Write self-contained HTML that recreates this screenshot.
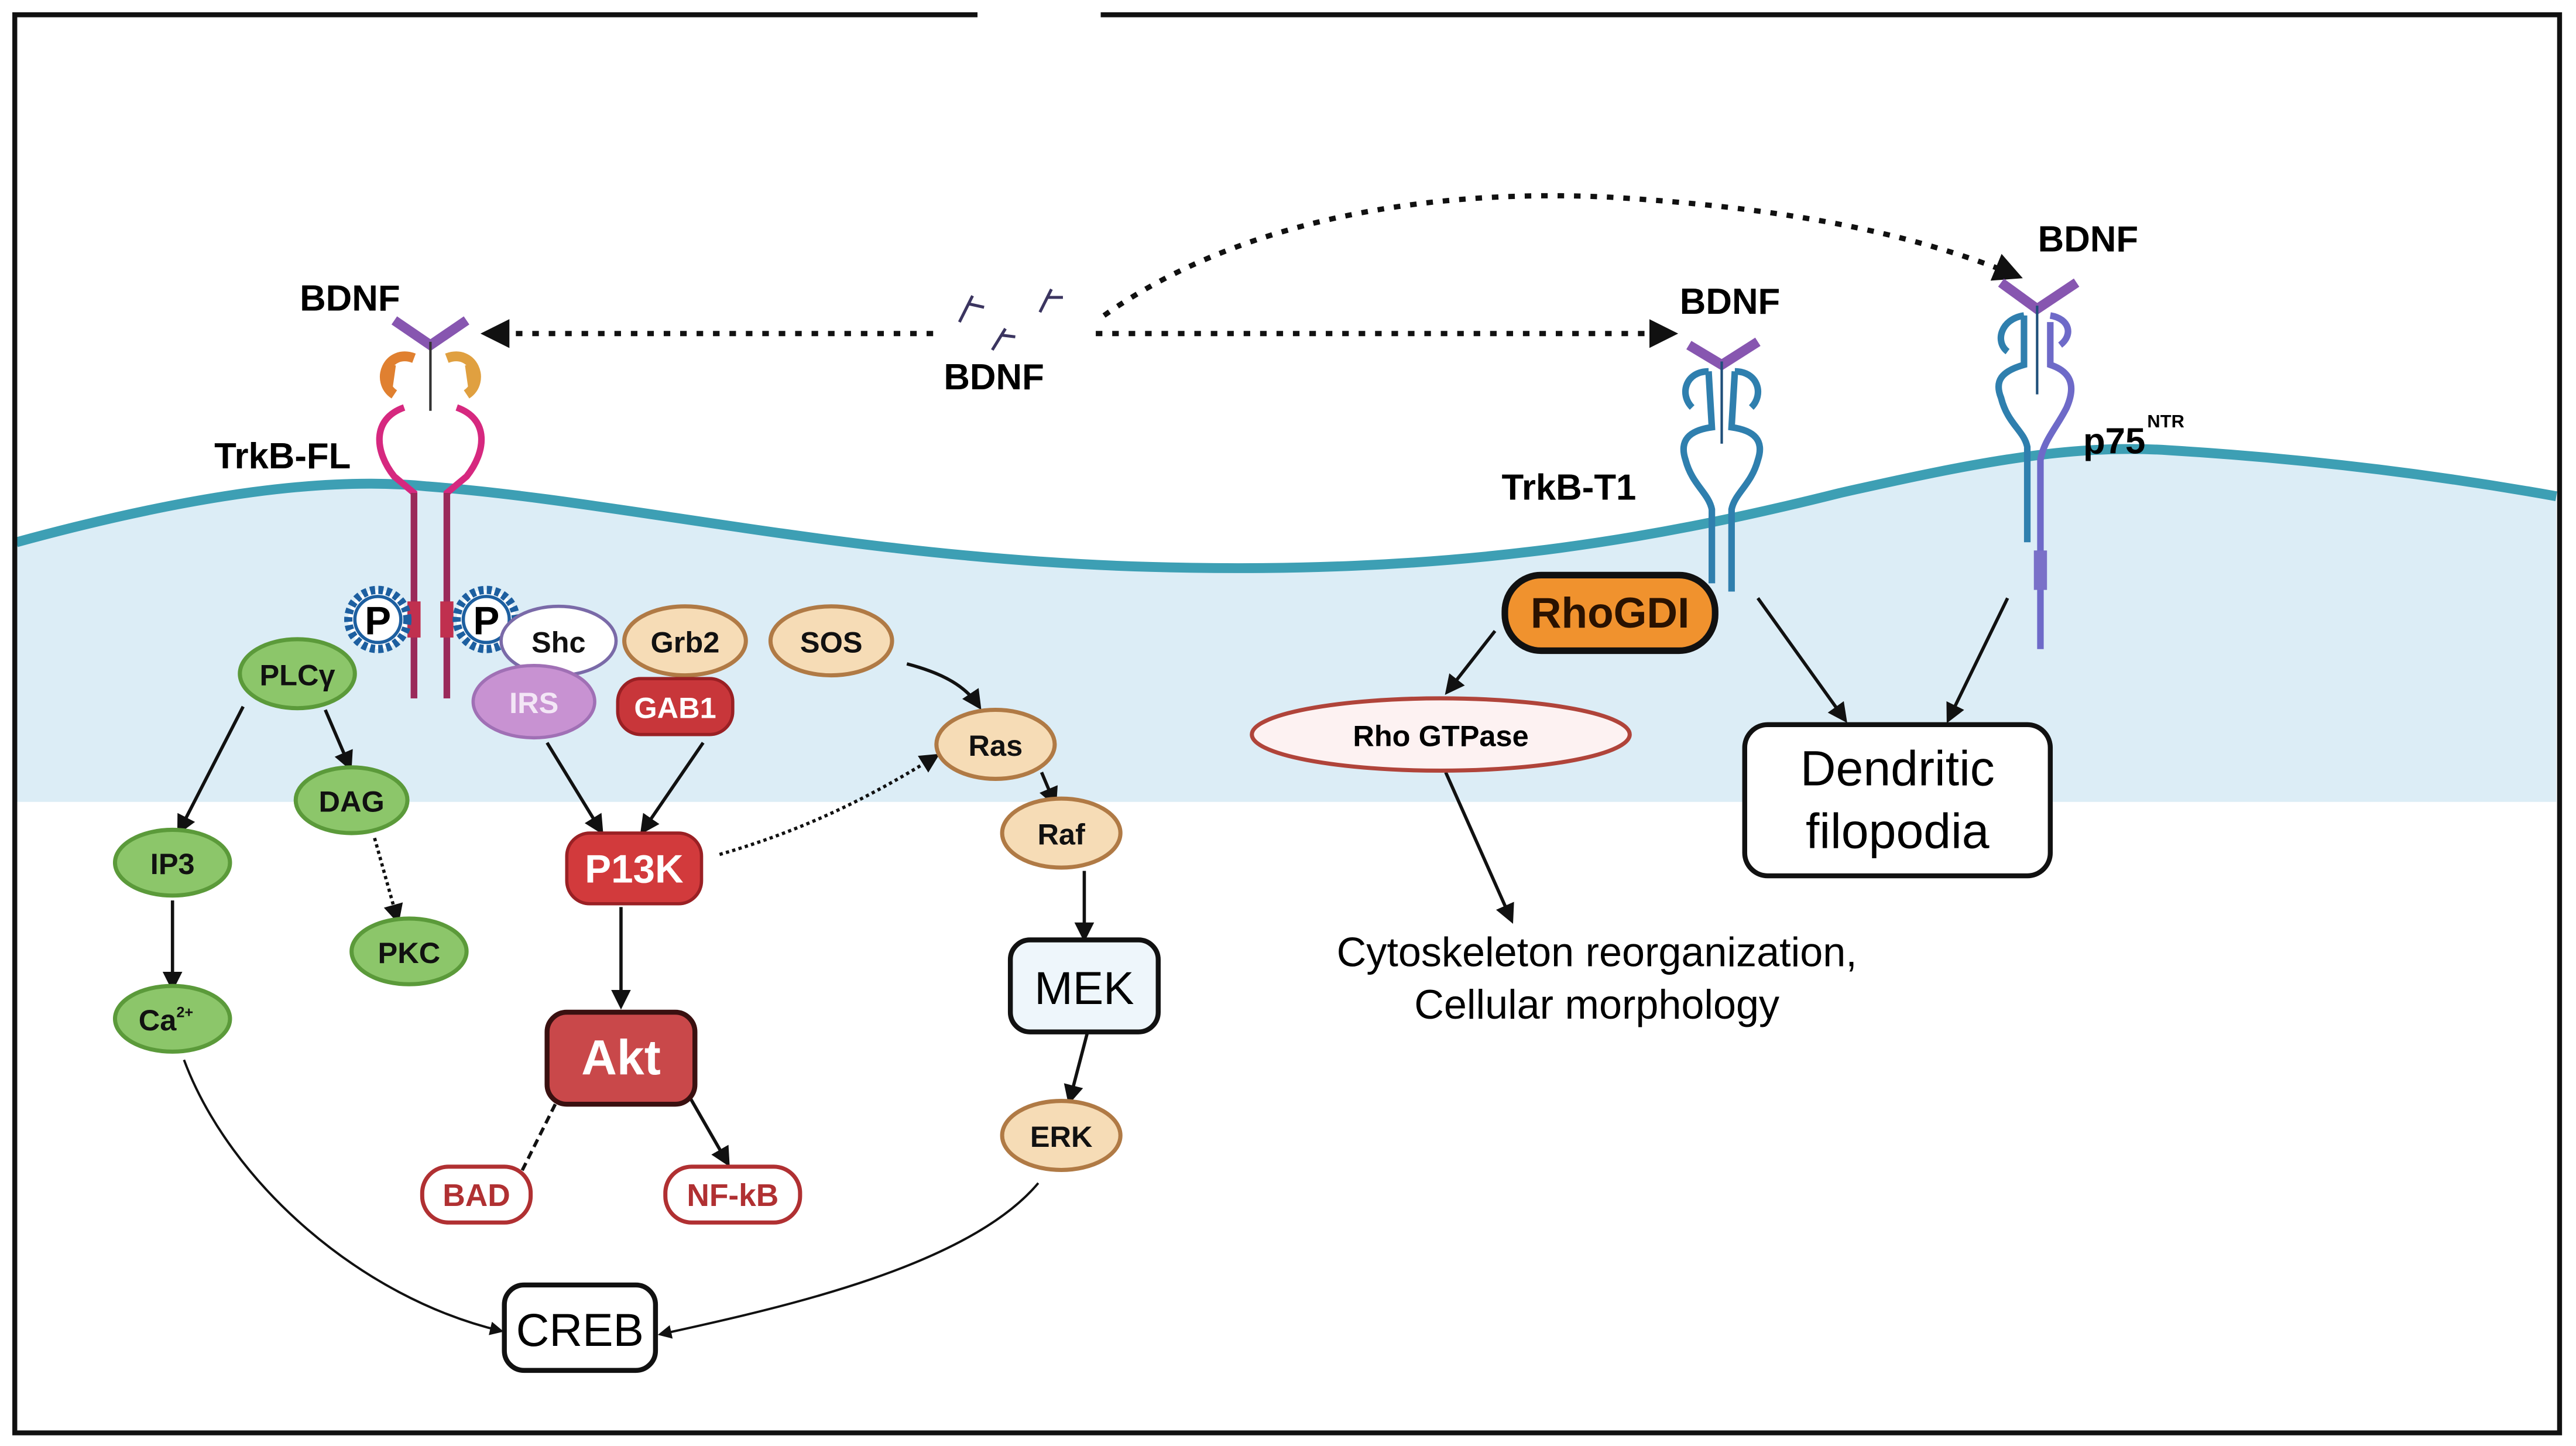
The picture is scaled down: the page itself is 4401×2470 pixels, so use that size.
<!DOCTYPE html>
<html><head><meta charset="utf-8"><style>
html,body{margin:0;padding:0;background:#fff}
svg{display:block}
text{font-family:"Liberation Sans Narrow","Liberation Sans",sans-serif;font-weight:bold}
</style></head><body>
<svg width="4401" height="2470" viewBox="0 0 1568 880" preserveAspectRatio="none" xmlns="http://www.w3.org/2000/svg">
<defs>
<marker id="ah" viewBox="0 0 10 10" refX="8" refY="5" markerWidth="6" markerHeight="6" orient="auto"><path d="M0,0 L10,5 L0,10 z" fill="#111"/></marker>
<marker id="ahb" viewBox="0 0 10 10" refX="8" refY="5" markerWidth="5.5" markerHeight="5.5" orient="auto"><path d="M0,0 L10,5 L0,10 z" fill="#111"/></marker>
</defs>
<rect width="1568" height="880" fill="#fff"/>
<path d="M10,330 C120,300 200,290 260,296 C380,305 520,340 700,345 C880,350 1000,330 1120,300 C1200,282 1260,270 1320,274 C1420,280 1500,292 1556,302 L1556,488 L10,488 Z" fill="#dcedf6"/>
<path d="M10,330 C120,300 200,290 260,296 C380,305 520,340 700,345 C880,350 1000,330 1120,300 C1200,282 1260,270 1320,274 C1420,280 1500,292 1556,302" fill="none" stroke="#3d9fb4" stroke-width="6"/>
<path d="M595,9 L9,9 L9,872 L1558,872 L1558,9 L670,9" fill="none" stroke="#111" stroke-width="3"/>

<g stroke="#111" stroke-width="3.2" stroke-dasharray="4 6" fill="none">
<path d="M568,203 L296,203" marker-end="url(#ahb)"/>
<path d="M667,203 L1018,203" marker-end="url(#ahb)"/>
<path d="M672,192 C760,130 880,115 980,120 C1080,126 1160,140 1228,168" marker-end="url(#ahb)"/>
</g>
<g stroke="#3b3560" stroke-width="1.8" fill="none">
<path d="M584,196 L592,180 M590,185 L599,187"/>
<path d="M604,213 L612,200 M610,204 L618,205"/>
<path d="M633,190 L640,176 M638,181 L647,181"/>
</g>
<text x="605" y="237" font-size="22" text-anchor="middle">BDNF</text>

<path d="M240,195 L262,210 L284,195" fill="none" stroke="#8756b0" stroke-width="6"/>
<line x1="262" y1="208" x2="262" y2="250" stroke="#333" stroke-width="1.5"/>
<path d="M252,218 C236,212 228,232 240,240 M238,222 L236,236" stroke="#e08030" stroke-width="6" fill="none"/>
<path d="M272,218 C288,212 296,232 284,240 M286,222 L288,236" stroke="#e0a040" stroke-width="6" fill="none"/>
<path d="M246,248 C226,255 228,275 240,290 L252,300 L252,425" fill="none" stroke="#d6287f" stroke-width="4"/>
<path d="M278,248 C298,255 296,275 284,290 L272,300 L272,425" fill="none" stroke="#d6287f" stroke-width="4"/>
<path d="M252,300 L252,425 M272,300 L272,425" stroke="#9a2a5a" stroke-width="4"/>
<rect x="248" y="366" width="8" height="22" fill="#c0304f"/><rect x="268" y="366" width="8" height="22" fill="#c0304f"/>
<text x="213" y="189" font-size="22" text-anchor="middle">BDNF</text>
<text x="172" y="285" font-size="22" text-anchor="middle">TrkB-FL</text>
<g>
<circle cx="230" cy="377" r="18" fill="#fff" stroke="#1d5fa0" stroke-width="5" stroke-dasharray="3 2"/>
<circle cx="230" cy="377" r="14" fill="#fff" stroke="#1d5fa0" stroke-width="2"/>
<text x="230" y="386" font-size="24" text-anchor="middle">P</text>
<circle cx="296" cy="377" r="18" fill="#fff" stroke="#1d5fa0" stroke-width="5" stroke-dasharray="3 2"/>
<circle cx="296" cy="377" r="14" fill="#fff" stroke="#1d5fa0" stroke-width="2"/>
<text x="296" y="386" font-size="24" text-anchor="middle">P</text>
</g>

<path d="M1028,210 L1048,222 L1070,208" fill="none" stroke="#8756b0" stroke-width="6"/>
<line x1="1048" y1="220" x2="1048" y2="270" stroke="#1f4f7a" stroke-width="1.5"/>
<g stroke="#2f7fae" stroke-width="4" fill="none">
<path d="M1040,226 C1026,226 1022,240 1030,248 M1040,226 L1042,260 C1028,262 1022,268 1026,280 C1030,295 1040,300 1042,310 L1042,355"/>
<path d="M1056,226 C1070,226 1074,240 1066,248 M1056,226 L1054,260 C1068,262 1074,268 1070,280 C1066,295 1056,300 1054,310 L1054,360"/>
</g>
<text x="1053" y="191" font-size="22" text-anchor="middle">BDNF</text>
<text x="955" y="304" font-size="22" text-anchor="middle">TrkB-T1</text>

<path d="M1218,172 L1240,188 L1264,172" fill="none" stroke="#8756b0" stroke-width="6"/>
<line x1="1240" y1="186" x2="1240" y2="240" stroke="#1f4f7a" stroke-width="1.5"/>
<g stroke="#2f7fae" stroke-width="4" fill="none">
<path d="M1232,192 C1218,194 1214,208 1222,214 M1232,192 L1232,222 C1218,226 1214,232 1218,242 C1222,258 1232,262 1234,272 L1234,330"/>
</g>
<g stroke="#6e6ac8" stroke-width="4" fill="none">
<path d="M1248,192 C1260,194 1262,204 1254,210 M1248,196 L1248,222 C1260,226 1264,234 1258,248 C1252,260 1244,268 1242,280 L1242,395"/>
</g>
<rect x="1238" y="335" width="8" height="24" fill="#7a70c8"/>
<text x="1271" y="153" font-size="22" text-anchor="middle">BDNF</text>
<text x="1268" y="276" font-size="22">p75</text><text x="1307" y="260" font-size="11">NTR</text>

<g stroke="#111" stroke-width="2" fill="none" marker-end="url(#ah)">
<path d="M148,430 L109,506"/>
<path d="M198,432 L213,467"/>
<path d="M228,510 L242,560" stroke-dasharray="2 2"/>
<path d="M105,548 L105,601"/>
<path d="M333,452 L366,506"/>
<path d="M428,452 L391,506"/>
<path d="M438,520 C490,505 530,485 570,460" stroke-dasharray="2 2"/>
<path d="M378,552 L378,612"/>
<path d="M420,668 L443,708"/>
<path d="M552,404 C575,410 588,418 596,430"/>
<path d="M634,470 L642,489"/>
<path d="M660,530 L660,571"/>
<path d="M662,628 L651,670"/>
<path d="M112,645 C140,720 220,790 305,810" stroke-width="1.4"/>
<path d="M632,720 C590,770 480,795 402,812" stroke-width="1.4"/>
<path d="M910,384 L881,421"/>
<path d="M1070,364 L1123,438"/>
<path d="M1222,364 L1186,438"/>
<path d="M880,470 L920,560"/>
</g>
<path d="M338,672 L316,716" stroke="#111" stroke-width="2" stroke-dasharray="5 3"/>
<path d="M309,711 L322,720" stroke="#111" stroke-width="2"/>

<g stroke="#5b9a3a" stroke-width="2.5" fill="#8cc66a">
<ellipse cx="181" cy="410" rx="35" ry="21"/>
<ellipse cx="214" cy="487" rx="34" ry="20"/>
<ellipse cx="105" cy="525" rx="35" ry="20"/>
<ellipse cx="249" cy="579" rx="35" ry="20"/>
<ellipse cx="105" cy="620" rx="35" ry="20"/>
</g>
<g font-size="18" text-anchor="middle" fill="#111">
<text x="181" y="417">PLCγ</text>
<text x="214" y="494">DAG</text>
<text x="105" y="532">IP3</text>
<text x="249" y="586">PKC</text>
<text x="101" y="627">Ca<tspan font-size="9" dy="-8">2+</tspan></text>
</g>
<ellipse cx="340" cy="390" rx="35" ry="21" fill="#fff" stroke="#7a6aa8" stroke-width="2"/>
<ellipse cx="417" cy="390" rx="37" ry="21" fill="#f6dcb6" stroke="#b07a45" stroke-width="2.5"/>
<ellipse cx="506" cy="390" rx="37" ry="21" fill="#f6dcb6" stroke="#b07a45" stroke-width="2.5"/>
<ellipse cx="325" cy="427" rx="37" ry="22" fill="#c892d2" stroke="#a070b5" stroke-width="2"/>
<rect x="376" y="413" width="70" height="34" rx="14" fill="#c8363a" stroke="#9a2024" stroke-width="2"/>
<g font-size="18" text-anchor="middle">
<text x="340" y="397" fill="#111">Shc</text>
<text x="417" y="397" fill="#111">Grb2</text>
<text x="506" y="397" fill="#111">SOS</text>
<text x="325" y="434" fill="#f3e6f6">IRS</text>
<text x="411" y="437" fill="#fff">GAB1</text>
</g>
<rect x="345" y="507" width="82" height="43" rx="14" fill="#d23a3c" stroke="#9a2024" stroke-width="2"/>
<text x="386" y="537" font-size="24" fill="#fff" text-anchor="middle">P13K</text>
<rect x="333" y="616" width="90" height="56" rx="12" fill="#c9484a" stroke="#3a1010" stroke-width="3"/>
<text x="378" y="654" font-size="30" fill="#fff" text-anchor="middle">Akt</text>
<rect x="257" y="710" width="66" height="34" rx="16" fill="#fff" stroke="#b03032" stroke-width="2.5"/>
<rect x="405" y="710" width="82" height="34" rx="16" fill="#fff" stroke="#b03032" stroke-width="2.5"/>
<text x="290" y="734" font-size="19" fill="#b03032" text-anchor="middle">BAD</text>
<text x="446" y="734" font-size="19" fill="#b03032" text-anchor="middle">NF-kB</text>
<g stroke="#b07a45" stroke-width="2.5" fill="#f6dcb6">
<ellipse cx="606" cy="453" rx="36" ry="21"/>
<ellipse cx="646" cy="507" rx="36" ry="21"/>
<ellipse cx="646" cy="691" rx="36" ry="21"/>
</g>
<g font-size="18" text-anchor="middle" fill="#111">
<text x="606" y="460">Ras</text><text x="646" y="514">Raf</text><text x="646" y="698">ERK</text>
</g>
<rect x="615" y="572" width="90" height="56" rx="12" fill="#eef6fb" stroke="#111" stroke-width="3"/>
<text x="660" y="611" font-size="28" text-anchor="middle" style="font-weight:normal">MEK</text>
<rect x="307" y="782" width="92" height="52" rx="12" fill="#fff" stroke="#111" stroke-width="3"/>
<text x="353" y="819" font-size="28" text-anchor="middle" style="font-weight:normal">CREB</text>

<rect x="916" y="350" width="128" height="46" rx="22" fill="#f0922e" stroke="#111" stroke-width="4"/>
<text x="980" y="382" font-size="26" text-anchor="middle" fill="#2a1200">RhoGDI</text>
<ellipse cx="877" cy="447" rx="115" ry="22" fill="#fdf2f2" stroke="#b0443a" stroke-width="2.5"/>
<text x="877" y="454" font-size="18" text-anchor="middle">Rho GTPase</text>
<rect x="1062" y="441" width="186" height="92" rx="14" fill="#fff" stroke="#111" stroke-width="3"/>
<text x="1155" y="478" font-size="30" text-anchor="middle" style="font-weight:normal">Dendritic</text>
<text x="1155" y="516" font-size="30" text-anchor="middle" style="font-weight:normal">filopodia</text>
<text x="972" y="588" font-size="25" text-anchor="middle" style="font-weight:normal">Cytoskeleton reorganization,</text>
<text x="972" y="620" font-size="25" text-anchor="middle" style="font-weight:normal">Cellular morphology</text>
</svg>
</body></html>
